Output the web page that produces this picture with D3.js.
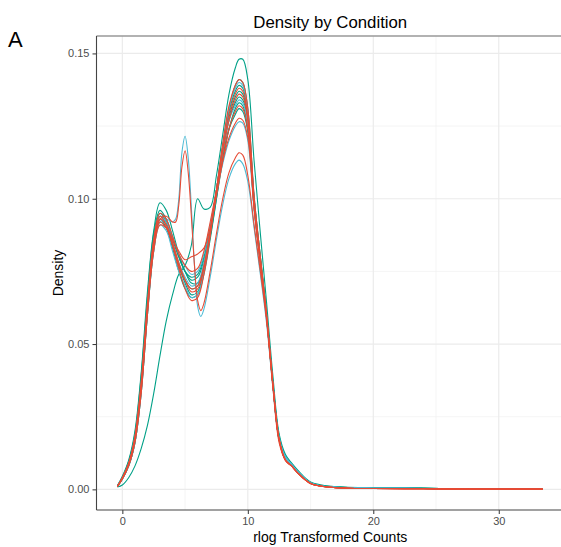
<!DOCTYPE html>
<html><head><meta charset="utf-8">
<script src="https://cdn.jsdelivr.net/npm/d3@7/dist/d3.min.js"></script>
<style>body{margin:0;background:#fff}svg{display:block}text{font-family:"Liberation Sans",Arial,Helvetica,sans-serif}</style>
</head><body>
<svg id="chart" width="561" height="547"></svg>
<script>
// shared evaluation grid (rlog transformed counts)
const xGrid = [-0.4,0,0.5,1,1.5,2,2.5,3,3.5,4,4.5,5,5.5,6,6.5,7,7.5,8,8.5,9,9.3,9.6,10,10.5,11,11.5,12,12.5,13,13.5,14,15,16,17,18,20,24,28,33.5];
// finer grid for the two samples with a spike near 5
const xGridFine = [-0.4,0,0.5,1,1.5,2,2.5,3,3.5,4,4.25,4.5,4.75,5,5.25,5.5,5.75,6,6.25,6.5,7,7.5,8,8.5,9,9.3,9.6,10,10.5,11,11.5,12,12.5,13,13.5,14,15,16,17,18,20,24,28,33.5];
const xTicks = [0,10,20,30];
const xMinor = [5,15,25];
const yTicks = [0,0.05,0.10,0.15];
const yMinor = [0.025,0.075,0.125];
const conditions = ["C1","C2","C3"];
const conditionColors = ["#00A087","#4DBBD5","#E64B35"];

// condition C1 (green)
const g1 = [.0008,.0015,.004,.008,.014,.022,.033,.046,.058,.067,.074,.077,.084,.100,.0965,.097,.108,.122,.136,.145,.148,.148,.141,.113,.088,.064,.039,.019,.012,.009,.0065,.0025,.0014,.0009,.0007,.0006,.0004,.0001,.0001];
const g2 = [.0012,.0045,.010,.020,.040,.068,.089,.0986,.096,.089,.081,.075,.071,.071,.077,.087,.100,.113,.124,.131,.133,.132,.124,.097,.078,.059,.036,.018,.011,.0085,.006,.0023,.0011,.0007,.0005,.0004,.0003,.0001,.0001];
const g3 = [.001,.004,.009,.018,.037,.064,.086,.095,.092,.085,.077,.071,.067,.068,.076,.088,.103,.118,.131,.139,.141,.140,.131,.101,.080,.060,.036,.017,.011,.0085,.006,.0022,.0011,.0008,.0006,.0005,.0004,.0001,.0001];
const g4 = [.001,.0038,.0085,.017,.035,.062,.085,.094,.092,.086,.080,.075,.072,.073,.079,.090,.103,.117,.128,.135,.137,.136,.127,.099,.079,.060,.036,.017,.011,.0085,.006,.0022,.0011,.0008,.0006,.0005,.0004,.0001,.0001];
const g5 = [.001,.0035,.008,.016,.034,.061,.083,.093,.090,.083,.075,.069,.066,.067,.074,.086,.100,.115,.127,.133,.135,.134,.127,.100,.080,.060,.037,.018,.011,.0085,.006,.0023,.0012,.0008,.0006,.0005,.0004,.0001,.0001];
const g6 = [.0012,.0042,.0095,.019,.039,.066,.088,.096,.093,.087,.080,.075,.073,.074,.080,.090,.102,.114,.124,.129,.131,.130,.123,.097,.078,.059,.036,.018,.011,.0085,.006,.0023,.0012,.0008,.0006,.0005,.0004,.0001,.0001];
const g7 = [.001,.0036,.008,.016,.033,.060,.082,.092,.090,.084,.077,.072,.069,.070,.077,.089,.103,.118,.130,.137,.139,.138,.129,.100,.079,.060,.036,.017,.011,.0085,.006,.0022,.0011,.0007,.0005,.0004,.0003,.0001,.0001];
// condition C2 (blue) — b1 uses xGridFine
const b1 = [.001,.0038,.0085,.017,.035,.062,.084,.092,.093,.092,.093,.100,.116,.1215,.114,.097,.077,.063,.0595,.062,.073,.086,.098,.107,.112,.1133,.112,.106,.090,.074,.057,.035,.017,.011,.0085,.006,.0022,.0011,.0007,.0005,.0004,.0003,.0001,.0001];
const b2 = [.001,.0039,.0088,.018,.036,.063,.085,.094,.092,.087,.081,.077,.074,.075,.081,.091,.102,.112,.120,.125,.1265,.126,.120,.096,.078,.059,.036,.018,.011,.0085,.006,.0022,.0011,.0007,.0005,.0004,.0003,.0001,.0001];
const b3 = [.001,.0036,.008,.016,.033,.060,.082,.091,.089,.082,.075,.070,.066,.067,.075,.088,.103,.118,.131,.138,.140,.139,.130,.100,.079,.060,.036,.017,.011,.0085,.006,.0022,.0011,.0007,.0005,.0004,.0003,.0001,.0001];
const b4 = [.001,.0037,.0083,.017,.034,.061,.083,.093,.091,.085,.078,.073,.070,.071,.078,.089,.102,.116,.127,.132,.134,.133,.126,.098,.078,.059,.036,.017,.011,.0085,.006,.0022,.0011,.0007,.0005,.0004,.0003,.0001,.0001];
// condition C3 (red) — r1 uses xGridFine
const r1 = [.001,.0038,.0085,.017,.035,.062,.084,.093,.094,.092,.092,.098,.111,.1165,.109,.094,.077,.065,.0615,.064,.075,.088,.100,.109,.114,.1158,.115,.108,.091,.075,.058,.035,.016,.010,.008,.0055,.002,.001,.0006,.0004,.0003,.0002,.0001,.0001];
const r2 = [.001,.004,.009,.018,.037,.064,.086,.095,.093,.087,.081,.077,.075,.076,.082,.092,.103,.113,.121,.126,.1277,.127,.121,.097,.078,.059,.036,.017,.010,.008,.0055,.002,.001,.0006,.0004,.0003,.0002,.0001,.0001];
const r3 = [.001,.0036,.008,.016,.033,.060,.082,.091,.090,.086,.082,.079,.080,.081,.083,.090,.101,.113,.124,.130,.132,.131,.124,.097,.078,.059,.036,.017,.010,.008,.0055,.002,.001,.0006,.0004,.0003,.0002,.0001,.0001];
const r4 = [.001,.0039,.0088,.018,.036,.063,.085,.094,.091,.084,.076,.069,.065,.066,.074,.087,.103,.119,.132,.139,.141,.140,.131,.101,.080,.060,.036,.017,.010,.008,.0055,.002,.001,.0006,.0004,.0003,.0002,.0001,.0001];
const r5 = [.001,.0037,.0083,.017,.034,.061,.083,.092,.090,.084,.077,.072,.069,.070,.077,.089,.103,.117,.129,.136,.138,.137,.128,.099,.079,.060,.036,.017,.010,.008,.0055,.002,.001,.0006,.0004,.0003,.0002,.0001,.0001];
const r6 = [.001,.0038,.0085,.017,.035,.062,.084,.093,.091,.085,.078,.072,.068,.069,.076,.088,.102,.116,.127,.134,.136,.135,.127,.098,.078,.059,.036,.017,.010,.008,.0055,.002,.001,.0006,.0004,.0003,.0002,.0001,.0001];

const series = [
  {cond:0,xs:xGrid,v:g1},{cond:0,xs:xGrid,v:g2},{cond:0,xs:xGrid,v:g3},{cond:0,xs:xGrid,v:g4},
  {cond:0,xs:xGrid,v:g5},{cond:0,xs:xGrid,v:g6},{cond:0,xs:xGrid,v:g7},
  {cond:1,xs:xGridFine,v:b1},{cond:1,xs:xGrid,v:b2},{cond:1,xs:xGrid,v:b3},{cond:1,xs:xGrid,v:b4},
  {cond:2,xs:xGridFine,v:r1},{cond:2,xs:xGrid,v:r2},{cond:2,xs:xGrid,v:r3},{cond:2,xs:xGrid,v:r4},
  {cond:2,xs:xGrid,v:r5},{cond:2,xs:xGrid,v:r6}
];

const svg = d3.select("#chart");
const L = 96.5, R = 564, T = 36, B = 510;
const x = d3.scaleLinear().domain([-2.06, 35.2]).range([L, R]);
const y = d3.scaleLinear().domain([-0.0071, 0.156]).range([B, T]);

// grid
const grid = svg.append("g");
grid.selectAll(".xm").data(xMinor).join("line")
  .attr("x1",d=>x(d)).attr("x2",d=>x(d)).attr("y1",T).attr("y2",B)
  .attr("stroke","#f0f0f0").attr("stroke-width",0.7);
grid.selectAll(".ym").data(yMinor).join("line")
  .attr("x1",L).attr("x2",R).attr("y1",d=>y(d)).attr("y2",d=>y(d))
  .attr("stroke","#f0f0f0").attr("stroke-width",0.7);
grid.selectAll(".xM").data(xTicks).join("line")
  .attr("x1",d=>x(d)).attr("x2",d=>x(d)).attr("y1",T).attr("y2",B)
  .attr("stroke","#ebebeb").attr("stroke-width",1.2);
grid.selectAll(".yM").data(yTicks).join("line")
  .attr("x1",L).attr("x2",R).attr("y1",d=>y(d)).attr("y2",d=>y(d))
  .attr("stroke","#ebebeb").attr("stroke-width",1.2);

// density lines
svg.append("clipPath").attr("id","clip").append("rect")
  .attr("x",L).attr("y",T).attr("width",R-L).attr("height",B-T);
const lineFor = s => d3.line().x((d,i)=>x(s.xs[i])).y(d=>y(d)).curve(d3.curveCatmullRom.alpha(0.5))(s.v);
svg.append("g").attr("clip-path","url(#clip)")
  .selectAll("path").data(series).join("path")
  .attr("d",d=>lineFor(d))
  .attr("fill","none")
  .attr("stroke",d=>conditionColors[d.cond])
  .attr("stroke-width",1.1);

// panel border top
svg.append("line").attr("x1",L).attr("x2",561).attr("y1",T).attr("y2",T)
  .attr("stroke","#999").attr("stroke-width",1.4);

// axes
const ax = svg.append("g").attr("transform",`translate(0,${B})`)
  .call(d3.axisBottom(x).tickValues(xTicks).tickSize(4).tickPadding(3).tickFormat(d3.format("d")));
const ay = svg.append("g").attr("transform",`translate(${L},0)`)
  .call(d3.axisLeft(y).tickValues(yTicks).tickSize(4).tickPadding(3).tickFormat(d3.format(".2f")));
[ax,ay].forEach(a=>{
  a.select(".domain").remove();
  a.selectAll(".tick line").attr("stroke","#333").attr("stroke-width",1);
  a.selectAll(".tick text").attr("fill","#4d4d4d").style("font-size","11px")
    .style("font-family",'"Liberation Sans",Arial,sans-serif');
});
svg.append("line").attr("x1",L).attr("x2",561).attr("y1",B).attr("y2",B)
  .attr("stroke","#444").attr("stroke-width",1.1);
svg.append("line").attr("x1",L).attr("x2",L).attr("y1",T).attr("y2",B)
  .attr("stroke","#444").attr("stroke-width",1.1);

// titles
svg.append("text").attr("x",(L+R)/2).attr("y",28).attr("text-anchor","middle")
  .style("font-size","16.8px").attr("fill","#000").text("Density by Condition");
svg.append("text").attr("x",(L+R)/2).attr("y",541.5).attr("text-anchor","middle")
  .style("font-size","14px").attr("fill","#000").text("rlog Transformed Counts");
svg.append("text").attr("transform",`translate(63,${(T+B)/2}) rotate(-90)`).attr("text-anchor","middle")
  .style("font-size","14px").attr("fill","#000").text("Density");
svg.append("text").attr("x",8).attr("y",47)
  .style("font-size","22px").attr("fill","#000").text("A");
</script>
</body></html>
